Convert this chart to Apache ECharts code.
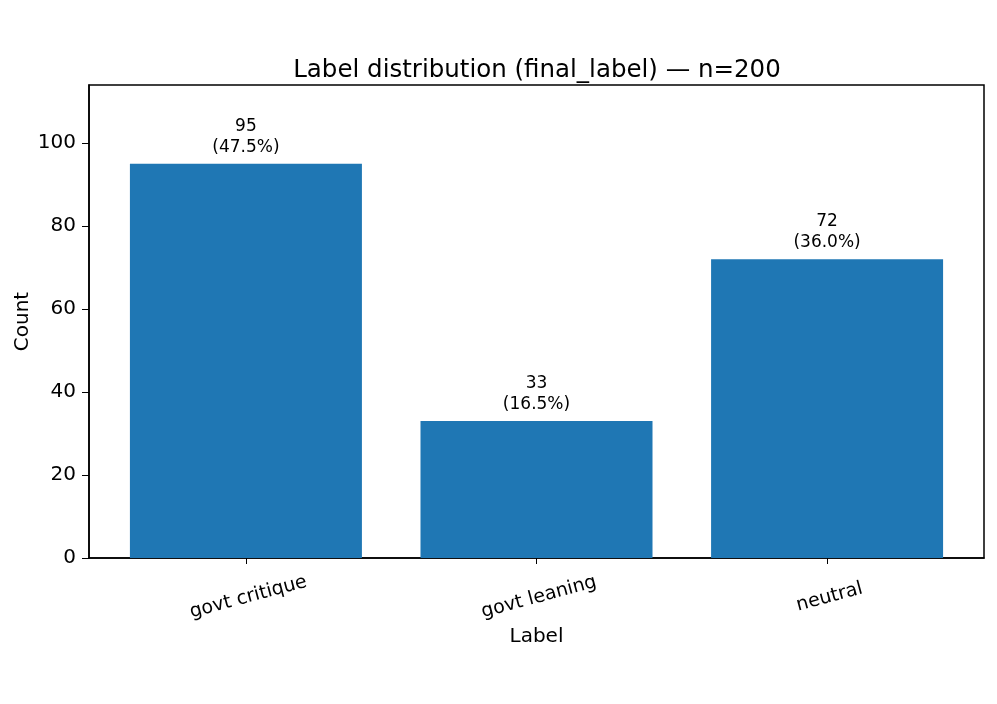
<!DOCTYPE html>
<html>
<head>
<meta charset="utf-8">
<script src="https://cdn.jsdelivr.net/npm/echarts@6/dist/echarts.min.js"></script>
<style>
  html, body { margin: 0; padding: 0; background: #fff; }
  #main { width: 997px; height: 704px; }
</style>
</head>
<body>
<div id="main"></div>
<script>
// chart data
var categories = ["govt critique", "govt leaning", "neutral"];
var counts = [95, 33, 72];
var percents = ["47.5%", "16.5%", "36.0%"];
var yTicks = [0, 20, 40, 60, 80, 100];
var total = 200;

var font = "DejaVu Sans, sans-serif";
var chartDom = document.getElementById("main");
var myChart = echarts.init(chartDom);

var option = {
  animation: false,
  backgroundColor: "#ffffff",
  title: {
    text: "Label distribution (final_label) \u2014 n=" + total,
    left: 532,
    top: 53,
    textAlign: "center",
    textStyle: {
      fontFamily: font,
      fontSize: 24.5,
      fontWeight: "normal",
      color: "#000",
    },
  },
  grid: {
    left: 89,
    right: 13,
    top: 85,
    bottom: 146,
    show: true,
    borderColor: "#000",
    borderWidth: 1.5,
    backgroundColor: "transparent",
  },
  xAxis: {
    type: "value",
    min: -0.54,
    max: 2.54,
    name: "Label",
    nameLocation: "middle",
    nameGap: 69,
    nameMoveOverlap: false,
    nameTextStyle: { fontFamily: font, fontSize: 20, color: "#000" },
    splitLine: { show: false },
    axisLine: { onZero: false, lineStyle: { color: "#000", width: 1.5 } },
    axisTick: {
      length: 6,
      lineStyle: { color: "#000" },
      customValues: [0, 1, 2],
    },
    axisLabel: {
      customValues: [0, 1, 2],
      rotate: 15,
      align: "center",
      verticalAlign: "top",
      margin: 30,
      fontFamily: font,
      fontSize: 19,
      color: "#000",
      formatter: function (v) {
        return categories[Math.round(v)];
      },
    },
  },
  yAxis: {
    type: "value",
    min: 0,
    max: 114,
    name: "Count",
    nameLocation: "middle",
    nameGap: 56,
    nameMoveOverlap: false,
    nameTextStyle: { fontFamily: font, fontSize: 20, color: "#000" },
    splitLine: { show: false },
    axisLine: { show: true, onZero: false, lineStyle: { color: "#000", width: 1.5 } },
    axisTick: {
      show: true,
      length: 7,
      lineStyle: { color: "#000" },
      customValues: yTicks,
    },
    axisLabel: {
      customValues: yTicks,
      margin: 13,
      fontFamily: font,
      fontSize: 20,
      color: "#000",
    },
  },
  series: [
    {
      type: "bar",
      barWidth: 232,
      data: counts.map(function (c, i) {
        return [i, c];
      }),
      itemStyle: { color: "#1f77b4" },
      label: {
        show: true,
        position: "top",
        distance: 6,
        fontFamily: font,
        fontSize: 17,
        lineHeight: 21,
        color: "#000",
        formatter: function (p) {
          return counts[p.dataIndex] + "\n(" + percents[p.dataIndex] + ")";
        },
      },
    },
  ],
};

option && myChart.setOption(option);
</script>
</body>
</html>
